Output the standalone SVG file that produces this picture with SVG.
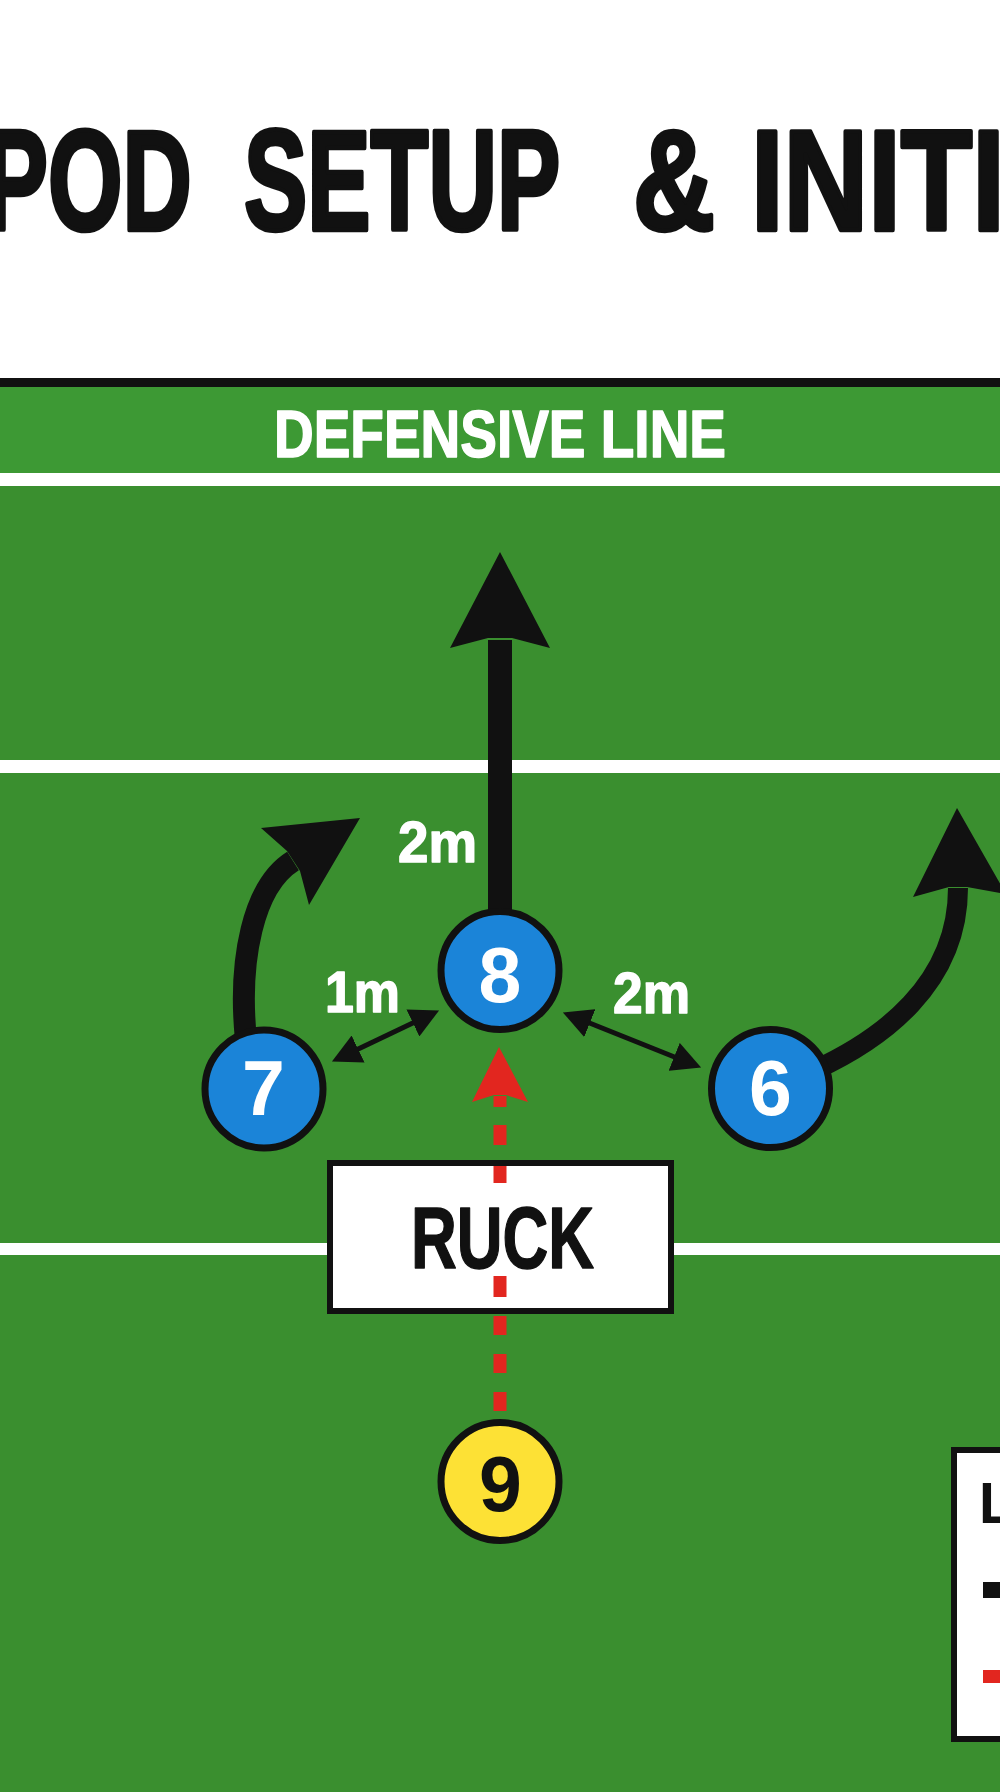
<svg xmlns="http://www.w3.org/2000/svg" width="1000" height="1792" viewBox="0 0 1000 1792">
<style>
.t{font-family:"Liberation Sans",Arial,"DejaVu Sans",sans-serif;font-weight:bold}
.w{fill:#ffffff}
.k{fill:#111111}
.ttl{font-size:142px;fill:#111111;stroke:#111111;stroke-width:4;stroke-linejoin:round;vector-effect:non-scaling-stroke}
.hv{stroke-width:1.5;stroke-linejoin:round}
.ply{fill:#1b84d8;stroke:#111111;stroke-width:7}
.sh{fill:#fde135;stroke:#111111;stroke-width:7}
.num{font-size:77px;text-anchor:middle}
.dist{font-size:58px}
.run{fill:none;stroke:#111111}
.dbl{fill:none;stroke:#111111;stroke-width:5;marker-start:url(#ah);marker-end:url(#ah)}
.pass{fill:none;stroke:#e2261f;stroke-width:13}
.box{fill:#ffffff;stroke:#111111;stroke-width:6}
.wl{fill:#ffffff}
</style>
<defs>
<marker id="ah" viewBox="0 0 29 30" refX="1" refY="15" markerWidth="29" markerHeight="30" markerUnits="userSpaceOnUse" orient="auto-start-reverse">
<path d="M0,0 L29,15 L0,30 z" fill="#111111"/>
</marker>
</defs>

<g id="background">
<rect x="0" y="0" width="1000" height="378" fill="#ffffff"/>
<rect x="0" y="378" width="1000" height="9" fill="#111111"/>
<rect x="0" y="387" width="1000" height="86" fill="#3d9934"/>
<rect x="0" y="486" width="1000" height="1306" fill="#3a8f2f"/>
<rect class="wl" x="0" y="473" width="1000" height="13"/>
<rect class="wl" x="0" y="760" width="1000" height="13"/>
<rect class="wl" x="0" y="1243" width="1000" height="12"/>
</g>

<g id="title">
<text class="t ttl" transform="translate(-16,230) scale(0.675,1)">POD</text>
<text class="t ttl" transform="translate(244,230) scale(0.668,1)">SETUP</text>
<text class="t ttl" transform="translate(633,230) scale(0.8,1)">&amp;</text>
<text class="t ttl" transform="translate(751,230) scale(0.825,1)">INITI</text>
</g>

<g id="defensive-line">
<text class="t w hv" stroke="#ffffff" x="274" y="457" font-size="66" textLength="452" lengthAdjust="spacingAndGlyphs">DEFENSIVE LINE</text>
</g>

<g id="ruck">
<rect class="box" x="330" y="1163" width="341" height="148"/>
</g>

<g id="connectors">
<path class="run" stroke-width="24" d="M500,940 V640"/>
<polygon class="k" points="500,552 550,648 512,638 488,638 450,648"/>
<path class="run" stroke-width="22" d="M246,1040 C238,960 253,886 293,861"/>
<polygon class="k" points="360,818 309,905 300,871 287,851 261,828"/>
<path class="run" stroke-width="20" d="M815,1070 C880,1040 958,985 958,888"/>
<polygon class="k" points="957,808 1006,894 967,887 949,887 913,897"/>
<line class="dbl" x1="357.2" y1="1049.5" x2="413.8" y2="1022.5"/>
<line class="dbl" x1="588.9" y1="1022.8" x2="675.1" y2="1057.2"/>
<path class="pass" d="M500,1411V1392 M500,1373V1354 M500,1335V1316 M500,1297V1276 M500,1183V1166 M500,1145V1125 M500,1107V1096"/>
<polygon fill="#e2261f" points="499,1047 528,1102 506,1095 494,1095 472,1102"/>
</g>

<g id="ruck-label">
<text class="t k hv" stroke="#111111" x="411" y="1268" font-size="87" textLength="183" lengthAdjust="spacingAndGlyphs">RUCK</text>
</g>

<g id="labels">
<text class="t w dist hv" stroke="#ffffff" x="398" y="862" textLength="79" lengthAdjust="spacingAndGlyphs">2m</text>
<text class="t w dist hv" stroke="#ffffff" x="325" y="1012" textLength="75" lengthAdjust="spacingAndGlyphs">1m</text>
<text class="t w dist hv" stroke="#ffffff" x="613" y="1013" textLength="77" lengthAdjust="spacingAndGlyphs">2m</text>
</g>

<g id="node-8">
<circle class="ply" cx="500" cy="970.5" r="59"/>
<text class="t w num" x="500" y="1002">8</text>
</g>
<g id="node-7">
<circle class="ply" cx="264" cy="1089" r="59"/>
<text class="t w num" x="263.5" y="1115">7</text>
</g>
<g id="node-6">
<circle class="ply" cx="770.5" cy="1088.5" r="59"/>
<text class="t w num" x="770.5" y="1115">6</text>
</g>
<g id="node-9">
<circle class="sh" cx="500" cy="1481.5" r="59"/>
<text class="t k num" x="500.5" y="1511">9</text>
</g>

<g id="legend">
<rect class="box" x="954" y="1450" width="60" height="289"/>
<text class="t k" x="979" y="1523" font-size="57">L</text>
<line x1="983" y1="1590" x2="1010" y2="1590" stroke="#111111" stroke-width="16"/>
<line x1="983" y1="1676.5" x2="1010" y2="1676.5" stroke="#e2261f" stroke-width="13"/>
</g>
</svg>
